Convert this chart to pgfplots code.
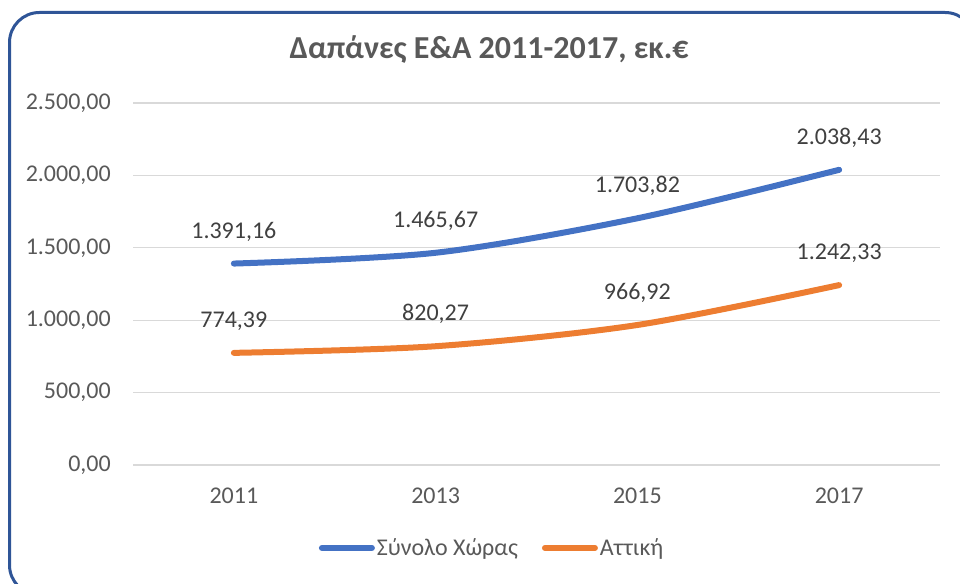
\documentclass[border=0pt]{standalone}
\usepackage{fontspec}
\setmainfont{Carlito}
\usepackage{pgfplots}
\pgfplotsset{compat=1.18}

\definecolor{serblue}{HTML}{4472C4}
\definecolor{serorange}{HTML}{ED7D31}
\definecolor{gridcol}{HTML}{D9D9D9}
\definecolor{txt}{HTML}{595959}
\definecolor{framecol}{HTML}{2F5597}

\begin{document}
\begin{tikzpicture}
\useasboundingbox (0pt,0pt) rectangle (960pt,583pt);
\begin{scope}
  \clip (0pt,0pt) rectangle (960pt,583pt);
  \draw[line width=3pt, framecol, rounded corners=30pt] (9.5pt,-12pt) rectangle (975pt,570.5pt);
\end{scope}

\node[font=\bfseries\fontsize{32}{36}\selectfont, text=txt] at (489pt,533pt)
  {Δαπάνες Ε\&Α 2011-2017, εκ.€};

\begin{axis}[
  at={(133pt,118pt)}, anchor=south west,
  scale only axis, width=807pt, height=362pt,
  xmin=-0.5, xmax=3.5, ymin=0, ymax=2500,
  xtick={0,1,2,3}, xticklabels={2011,2013,2015,2017},
  ytick={0,500,1000,1500,2000,2500},
  scaled y ticks=false,
  ymajorgrids, grid style={line width=1.3pt, gridcol},
  axis line style={draw=none},
  major tick length=0pt,
  /pgf/number format/.cd, fixed, fixed zerofill, precision=2, use comma, 1000 sep={.}, assume math mode=true,
  /pgfplots/.cd,
  tick label style={font=\fontsize{24}{28}\selectfont, text=txt, inner sep=0pt},
  yticklabel style={anchor=east, xshift=-22pt},
  xticklabel style={anchor=center, yshift=-31pt},
  nodes near coords,
  every node near coord/.append style={font=\fontsize{24}{28}\selectfont, text=black!75, anchor=center, yshift=32pt, inner sep=0pt},
  legend columns=2,
  legend style={at={(0.445,-0.229)}, anchor=center, draw=none, fill=none,
    font=\fontsize{24}{28}\selectfont, text=txt,
    nodes={inner sep=2pt},
    /tikz/every even column/.append style={column sep=22pt}},
  legend cell align=left,
  legend image code/.code={\draw[line width=6pt, line cap=round] (0pt,0pt) -- (50pt,0pt);},
]
\addplot[serblue, line width=6pt, smooth, line cap=round] coordinates {
  (0,1391.16) (1,1465.67) (2,1703.82) (3,2038.43)
};
\addlegendentry{Σύνολο Χώρας}
\addplot[serorange, line width=6pt, smooth, line cap=round] coordinates {
  (0,774.39) (1,820.27) (2,966.92) (3,1242.33)
};
\addlegendentry{Αττική}
\end{axis}
\end{tikzpicture}
\end{document}
